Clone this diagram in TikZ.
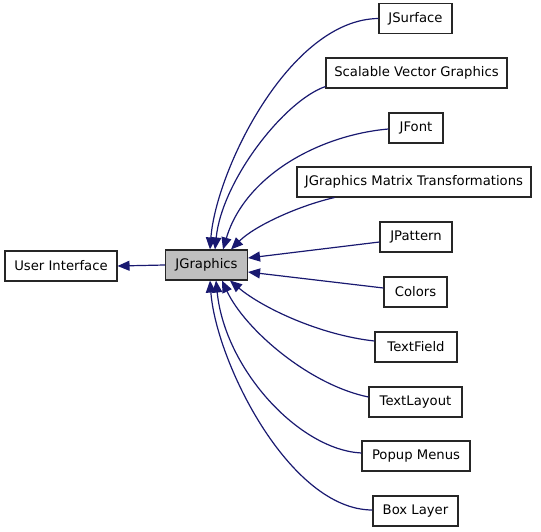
\documentclass[tikz,border=0pt]{standalone}
\usepackage{fontspec}
\setmainfont{DejaVu Sans}
\usetikzlibrary{arrows.meta}
\definecolor{edgeblue}{HTML}{191970}
\definecolor{boxgray}{HTML}{BFBFBF}
\begin{document}
\begin{tikzpicture}[x=1pt,y=-1pt,
  box/.style={draw=black!85,line width=1.1pt,fill=white,inner sep=0pt,minimum height=30pt,font=\fontsize{13.2}{15}\selectfont},
  edge/.style={draw=edgeblue,line width=1.2pt,-{Triangle[length=12pt,width=10pt]},fill=none},
]
\useasboundingbox (0,0) rectangle (541,532);
\node[box,minimum width=112pt] (ui) at (61,266) {User Interface};
\node[box,minimum width=82pt,fill=boxgray] (jg) at (206.5,265) {JGraphics};
\node[box,minimum width=73pt] (js) at (415.5,18.5) {JSurface};
\node[box,minimum width=181pt] (svg) at (416.5,73) {Scalable Vector Graphics};
\node[box,minimum width=54pt] (jf) at (416,128) {JFont};
\node[box,minimum width=234pt] (jgmt) at (414,182) {JGraphics Matrix Transformations};
\node[box,minimum width=72pt] (jp) at (416,237) {JPattern};
\node[box,minimum width=63pt] (col) at (415.5,292) {Colors};
\node[box,minimum width=82pt] (tf) at (416,347) {TextField};
\node[box,minimum width=93pt] (tl) at (415.5,402) {TextLayout};
\node[box,minimum width=108pt] (pm) at (416,456) {Popup Menus};
\node[box,minimum width=85pt] (bl) at (415.5,511) {Box Layer};

\draw[edge] (jg.west) -- (ui.east);
\draw[edge] (js.west) .. controls +(-89,1) and +(6,-79) .. ([xshift=3.5pt]jg.north);
\draw[edge] ([yshift=2pt]svg.south west) .. controls +(-41,14) and +(7,-69) .. ([xshift=8.5pt]jg.north);
\draw[edge] ([yshift=-1pt]jf.west) .. controls +(-69,6) and +(22,-74) .. ([xshift=16.5pt]jg.north);
\draw[edge] ([xshift=38pt]jgmt.south west) .. controls +(-35,8) and +(24,-24) .. ([xshift=24.5pt]jg.north);
\draw[edge] ([yshift=-5pt]jp.west) -- ([yshift=7pt]jg.east);
\draw[edge] ([yshift=4pt]col.west) -- ([yshift=-7pt]jg.east);
\draw[edge] ([yshift=6pt]tf.west) .. controls +(-55,-6) and +(32,27) .. ([xshift=23.5pt]jg.south);
\draw[edge] ([yshift=5pt]tl.west) .. controls +(-59,-12) and +(23,49) .. ([xshift=15.5pt]jg.south);
\draw[edge] ([yshift=3pt]pm.west) .. controls +(-62,-3) and +(9,89) .. ([xshift=9.5pt]jg.south);
\draw[edge] ([yshift=1pt]bl.west) .. controls +(-83,0) and +(6,81) .. ([xshift=3.5pt]jg.south);
\end{tikzpicture}
\end{document}
